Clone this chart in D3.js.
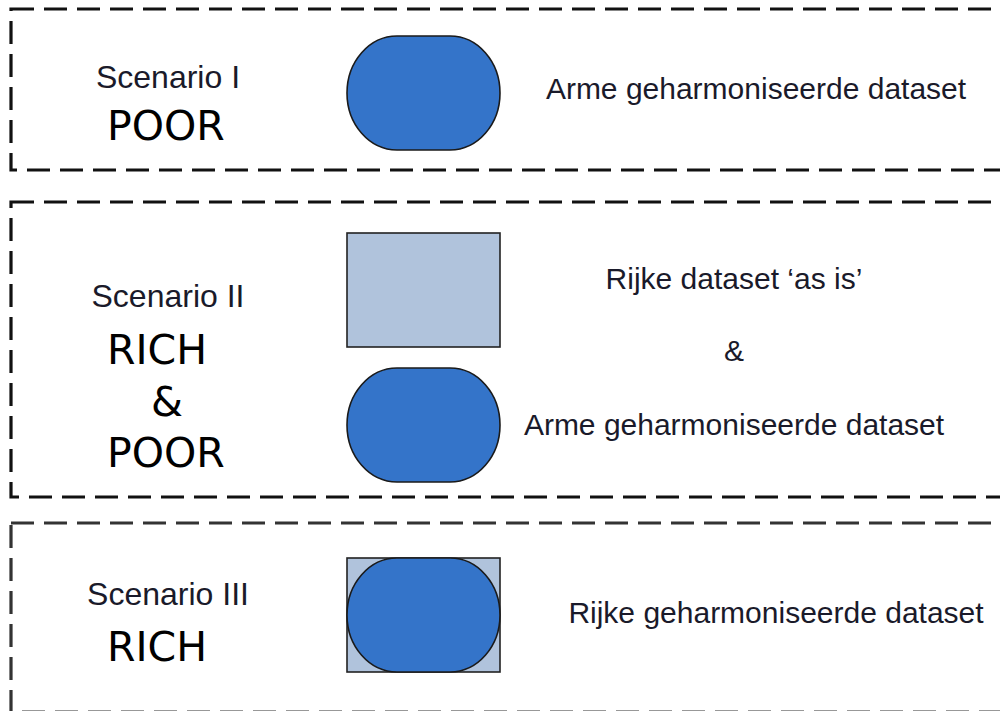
<!DOCTYPE html>
<html>
<head>
<meta charset="utf-8">
<script src="https://cdn.jsdelivr.net/npm/d3@7"></script>
<style>
  html, body { margin: 0; padding: 0; background: #fff; }
  svg { display: block; }
</style>
</head>
<body>
<div id="page"></div>
<script>

// scenario rows, top to bottom
var scenarioNames = ['Scenario I', 'Scenario II', 'Scenario III'];
var scenarioTags = [['POOR'], ['RICH', '&', 'POOR'], ['RICH']];
// what sits in the middle column of each row
var datasetShapes = [['poor'], ['rich', 'poor'], ['both']];
var datasetLabels = [
  ['Arme geharmoniseerde dataset'],
  ['Rijke dataset \u2018as is\u2019', '&', 'Arme geharmoniseerde dataset'],
  ['Rijke geharmoniseerde dataset']
];

var width = 1000,
    height = 711;

var svg = d3.select('#page').append('svg')
    .attr('width', width)
    .attr('height', height);

// row bands (px) - rows are not equal so a linear scale over row units
var rowTop = [9, 202, 523],
    rowBottom = [170, 497, 712];

var shapeX = d3.scaleLinear().domain([0, 1]).range([347, 500]);
var shapeW = shapeX(1) - shapeX(0),
    shapeH = 114;

var descX = [756, 734, 776];

var rows = svg.selectAll('g.row')
    .data(scenarioNames)
  .enter().append('g')
    .attr('class', 'row');

// dashed frames
rows.append('rect')
    .attr('x', 11)
    .attr('y', function(d, i) { return rowTop[i]; })
    .attr('width', 995)
    .attr('height', function(d, i) { return rowBottom[i] - rowTop[i]; })
    .attr('fill', 'none')
    .attr('stroke', function(d, i) { return i == 2 ? '#333' : '#111'; })
    .attr('stroke-width', 3.2)
    .attr('stroke-dasharray', '23,10');

// scenario title
rows.append('text')
    .attr('x', 168)
    .attr('y', function(d, i) { return [88, 307, 605][i]; })
    .attr('text-anchor', 'middle')
    .style('font-family', '"Liberation Sans", Arial, sans-serif')
    .style('font-size', '32px')
    .style('fill', '#1a1a2a')
    .text(function(d) { return d; });

// POOR / RICH tags
var tagY = [[140], [364, 416, 467], [661]];
rows.each(function(d, i) {
  d3.select(this).selectAll('text.tag')
      .data(scenarioTags[i])
    .enter().append('text')
      .attr('class', 'tag')
      .attr('x', function(t) { return t == '&' ? 167 : 107; })
      .attr('y', function(t, j) { return tagY[i][j]; })
      .attr('text-anchor', function(t) { return t == '&' ? 'middle' : 'start'; })
      .style('font-family', '"DejaVu Sans", Verdana, sans-serif')
      .style('font-size', '41px')
      .style('fill', '#000')
      .text(function(t) { return t; });
});

// shapes
var shapeTop = [[36], [233, 368], [558]];
var richFill = '#b0c3dc',
    poorFill = '#3474c9';

function drawRich(g, y) {
  g.append('rect')
      .attr('x', shapeX(0))
      .attr('y', y)
      .attr('width', shapeW)
      .attr('height', shapeH)
      .attr('fill', richFill)
      .attr('stroke', '#222')
      .attr('stroke-width', 1.6);
}

function drawPoor(g, y) {
  g.append('rect')
      .attr('x', shapeX(0))
      .attr('y', y)
      .attr('width', shapeW)
      .attr('height', shapeH)
      .attr('rx', 50)
      .attr('ry', shapeH / 2)
      .attr('fill', poorFill)
      .attr('stroke', '#1a1a1a')
      .attr('stroke-width', 1.6);
}

rows.each(function(d, i) {
  var g = d3.select(this);
  datasetShapes[i].forEach(function(s, j) {
    var y = shapeTop[i][j];
    if (s == 'rich') drawRich(g, y);
    if (s == 'poor') drawPoor(g, y);
    if (s == 'both') { drawRich(g, y); drawPoor(g, y); }
  });
});

// descriptions
var descY = [[99], [289, 361, 435], [623]];
rows.each(function(d, i) {
  d3.select(this).selectAll('text.desc')
      .data(datasetLabels[i])
    .enter().append('text')
      .attr('class', 'desc')
      .attr('x', descX[i])
      .attr('y', function(t, j) { return descY[i][j]; })
      .attr('text-anchor', 'middle')
      .style('font-family', '"Liberation Sans", Arial, sans-serif')
      .style('font-size', '30px')
      .style('fill', '#1a1a2a')
      .text(function(t) { return t; });
});

</script>
</body>
</html>
